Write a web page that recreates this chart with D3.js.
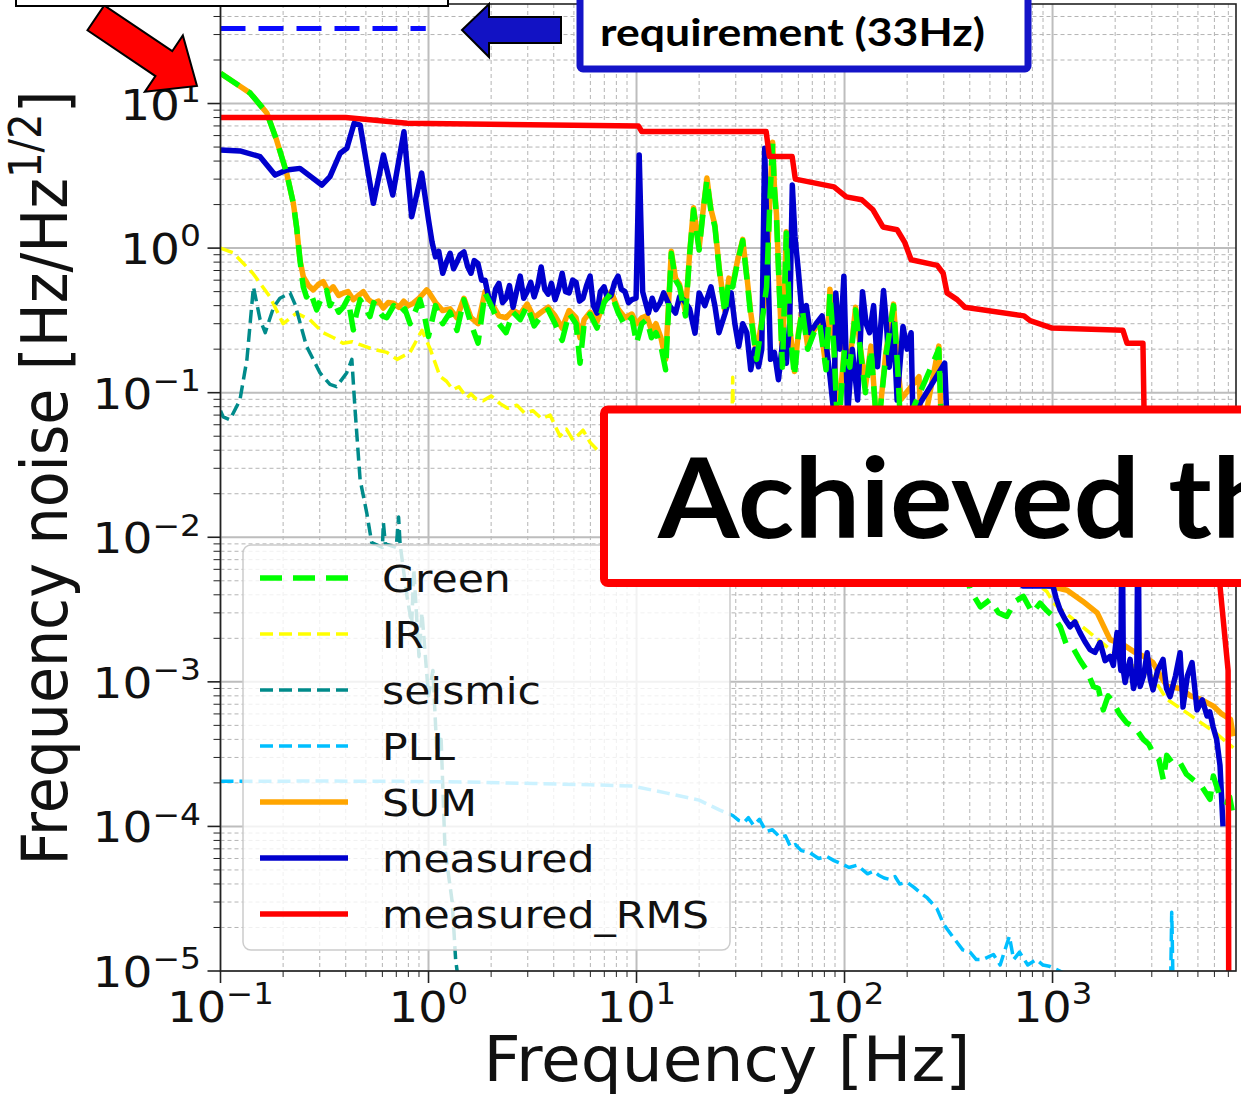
<!DOCTYPE html>
<html>
<head>
<meta charset="utf-8">
<script src="https://cdn.jsdelivr.net/npm/d3@7"></script>
<style>
  body { margin: 0; background: #fff; }
  svg { display: block; }
</style>
</head>
<body>
<script>
const W = 1241;
const H = 1096;

// Plot area (pixels)
const plotLeft = 220.5, plotRight = 1236, plotTop = 4, plotBottom = 971;

// ---- data: [frequency Hz, noise Hz/rtHz] ----
const legendLabels = ["Green", "IR", "seismic", "PLL", "SUM", "measured", "measured_RMS"];
const yTickExps = [-5, -4, -3, -2, -1, 0, 1];
const xTickExps = [-1, 0, 1, 2, 3];

const requirementValue = 33;
const requirementRange = [0.1, 0.97];

const greenData = [
  [0.1, 16.2], [0.12, 13.6], [0.139, 11.8], [0.167, 8.6], [0.186, 5.6], [0.208, 3.3],
  [0.224, 2.04], [0.232, 1.41], [0.241, 0.83], [0.246, 0.64], [0.25, 0.54], [0.259, 0.46],
  [0.27, 0.5], [0.29, 0.374], [0.305, 0.45], [0.324, 0.51], [0.336, 0.4], [0.348, 0.44],
  [0.37, 0.36], [0.389, 0.39], [0.41, 0.45], [0.435, 0.272], [0.45, 0.35], [0.469, 0.44],
  [0.5, 0.38], [0.523, 0.336], [0.545, 0.42], [0.564, 0.39], [0.6, 0.34], [0.63, 0.33],
  [0.68, 0.4], [0.73, 0.355], [0.77, 0.38], [0.815, 0.3], [0.86, 0.36], [0.91, 0.44],
  [0.96, 0.33], [1.0, 0.245], [1.08, 0.4], [1.17, 0.3], [1.27, 0.36], [1.37, 0.27],
  [1.48, 0.44], [1.6, 0.3], [1.73, 0.22], [1.87, 0.49], [2.02, 0.39], [2.18, 0.3],
  [2.36, 0.26], [2.55, 0.36], [2.76, 0.32], [2.98, 0.4], [3.22, 0.29], [3.48, 0.34],
  [3.76, 0.374], [4.06, 0.3], [4.39, 0.23], [4.74, 0.355], [5.12, 0.3], [5.35, 0.16],
  [5.6, 0.3], [5.98, 0.35], [6.46, 0.28], [6.98, 0.42], [7.54, 0.49], [8.15, 0.36],
  [8.8, 0.29], [9.5, 0.33], [10.0, 0.22], [10.6, 0.3], [11.2, 0.32], [11.8, 0.24],
  [12.4, 0.26], [13.1, 0.21], [13.8, 0.144], [14.7, 0.92], [15.4, 0.6], [16.1, 0.54],
  [17.2, 0.34], [18.0, 0.9], [18.8, 1.84], [20.0, 0.97], [21.0, 1.9], [21.8, 2.96],
  [22.8, 1.8], [23.8, 1.41], [25.0, 0.7], [26.6, 0.355], [27.8, 0.6], [29.0, 0.54],
  [30.6, 0.8], [32.4, 1.13], [34.0, 0.6], [35.4, 0.34], [37.8, 0.17], [40.0, 0.3],
  [42.2, 0.54], [43.8, 2.2], [45.1, 5.3], [46.0, 2.6], [47.1, 1.6], [48.6, 0.5],
  [50.3, 0.15], [52.5, 1.27], [54.8, 0.26], [57.4, 0.13], [60, 0.25], [62.7, 0.374],
  [66.5, 0.2], [71.3, 0.26], [76, 0.3], [81.5, 0.144], [85.1, 0.49], [89, 0.2],
  [92.9, 0.05], [100, 0.2], [106, 0.15], [113, 0.374], [119, 0.2], [126, 0.1],
  [134, 0.2], [144, 0.05], [158, 0.18], [172, 0.4], [180, 0.15], [187, 0.05],
  [284, 0.2], [293, 0.05],
  [401, 0.00435], [450, 0.0033], [501, 0.0037], [550, 0.003], [602, 0.00283], [660, 0.0036],
  [724, 0.0039], [800, 0.003], [871, 0.0035], [940, 0.0031], [1009, 0.00283], [1090, 0.0024],
  [1170, 0.00178], [1260, 0.0017], [1355, 0.00141], [1460, 0.0012], [1571, 0.00093],
  [1660, 0.0009], [1754, 0.00064], [1850, 0.0008], [1959, 0.00072], [2100, 0.0006],
  [2273, 0.00052], [2500, 0.00048], [2730, 0.0004], [2900, 0.00037], [3053, 0.00032],
  [3250, 0.00029], [3409, 0.00021], [3540, 0.00031], [3800, 0.00027], [4102, 0.000276],
  [4400, 0.00023], [4750, 0.00021], [5200, 0.00019], [5714, 0.000154], [5930, 0.000223],
  [6300, 0.00017], [6884, 0.000146], [7100, 0.00016], [7400, 0.000117]
];

const irData = [
  [0.1, 1.0], [0.115, 0.93], [0.143, 0.67], [0.173, 0.46], [0.2, 0.3], [0.232, 0.355],
  [0.269, 0.32], [0.311, 0.26], [0.35, 0.24], [0.388, 0.22], [0.43, 0.225], [0.469, 0.215],
  [0.541, 0.2], [0.631, 0.19], [0.706, 0.17], [0.815, 0.19], [0.93, 0.27], [1.02, 0.2],
  [1.135, 0.13], [1.22, 0.12], [1.31, 0.105], [1.4, 0.11], [1.53, 0.092], [1.6, 0.098],
  [1.7, 0.09], [1.83, 0.088], [2.0, 0.095], [2.21, 0.084], [2.4, 0.078], [2.66, 0.082],
  [2.9, 0.072], [3.18, 0.075], [3.5, 0.066], [3.84, 0.07], [4.29, 0.05], [4.6, 0.056],
  [4.95, 0.047], [5.53, 0.055], [6.0, 0.045], [6.68, 0.0385], [12, 0.03], [28.5, 0.025],
  [29, 0.128], [29.5, 0.025], [200, 0.01], [800, 0.005], [941, 0.0042], [1010, 0.0035],
  [1300, 0.0026], [1700, 0.0019], [2200, 0.0014], [3000, 0.0011], [3540, 0.00076],
  [4500, 0.0006], [6000, 0.00045], [7400, 0.00035]
];

const seismicData = [
  [0.1, 0.075], [0.103, 0.068], [0.111, 0.065], [0.124, 0.089], [0.134, 0.17], [0.144, 0.54],
  [0.155, 0.32], [0.164, 0.26], [0.18, 0.39], [0.193, 0.45], [0.216, 0.49], [0.228, 0.41],
  [0.259, 0.21], [0.301, 0.137], [0.336, 0.114], [0.361, 0.11], [0.404, 0.137], [0.428, 0.17],
  [0.443, 0.078], [0.469, 0.025], [0.505, 0.0147], [0.533, 0.0092], [0.6, 0.0085],
  [0.607, 0.0126], [0.62, 0.009], [0.7, 0.0085], [0.718, 0.0138], [0.73, 0.009],
  [0.786, 0.004], [0.83, 0.0025], [0.85, 0.006], [0.9, 0.0015], [0.93, 0.003], [1.0, 0.0008],
  [1.05, 0.0012], [1.1, 0.0003], [1.15, 0.0004], [1.2, 0.00007], [1.3, 0.00003],
  [1.35, 0.000012], [1.4, 0.000008]
];

const pllData = [
  [0.1, 0.000205], [0.3, 0.000206], [0.73, 0.000205], [1.5, 0.000203], [3.2, 0.000198],
  [6, 0.000194], [9.6, 0.00019], [14, 0.00017], [20, 0.000152], [25, 0.00013], [29, 0.000119],
  [31, 0.00011], [33, 0.000107], [34.5, 0.000115], [36.5, 0.000102], [39, 0.000112],
  [42, 0.000092], [45, 0.000095], [49, 0.000084], [52, 0.000086], [55, 0.000072],
  [58, 0.000075], [62, 0.000068], [68, 0.000066], [75, 0.00006], [82, 0.000062],
  [89, 0.000058], [97, 0.000055], [105, 0.000052], [115, 0.000054], [129, 0.000047],
  [138, 0.000049], [146, 0.000046], [155, 0.000044], [165, 0.000043], [175, 0.000045],
  [184, 0.00004], [200, 0.000041], [215, 0.000038], [230, 0.000035], [250, 0.000032],
  [278, 0.000027], [300, 0.000021], [330, 0.0000174], [370, 0.000014], [401, 0.0000135],
  [430, 0.000012], [462, 0.000012], [520, 0.000013], [560, 0.000011], [620, 0.0000174],
  [650, 0.000012], [694, 0.0000135], [760, 0.000011], [835, 0.000012], [900, 0.000011],
  [964, 0.0000108], [1166, 0.0000095], [3700, 0.000009], [3740, 0.0000255],
  [3760, 0.000018], [3790, 0.000009]
];

const sumData = [
  [0.1, 16.2], [0.12, 13.6], [0.139, 11.8], [0.167, 8.6], [0.186, 5.6], [0.208, 3.3],
  [0.224, 2.04], [0.232, 1.41], [0.241, 0.83], [0.25, 0.635], [0.265, 0.55], [0.279, 0.514],
  [0.295, 0.56], [0.312, 0.586], [0.33, 0.5], [0.348, 0.54], [0.37, 0.47], [0.389, 0.488],
  [0.41, 0.5], [0.435, 0.44], [0.46, 0.47], [0.486, 0.5], [0.515, 0.44], [0.543, 0.416],
  [0.575, 0.43], [0.607, 0.385], [0.64, 0.42], [0.678, 0.416], [0.72, 0.39], [0.76, 0.43],
  [0.8, 0.4], [0.845, 0.416], [0.9, 0.45], [0.98, 0.514], [1.0, 0.5], [1.08, 0.42],
  [1.17, 0.37], [1.27, 0.38], [1.37, 0.33], [1.48, 0.45], [1.6, 0.33], [1.73, 0.3],
  [1.87, 0.5], [2.02, 0.41], [2.18, 0.34], [2.36, 0.33], [2.55, 0.37], [2.76, 0.35],
  [2.98, 0.41], [3.22, 0.33], [3.48, 0.36], [3.76, 0.39], [4.06, 0.34], [4.39, 0.28],
  [4.74, 0.37], [5.12, 0.33], [5.35, 0.24], [5.6, 0.32], [5.98, 0.36], [6.46, 0.31],
  [6.98, 0.43], [7.54, 0.5], [8.15, 0.38], [8.8, 0.33], [9.5, 0.35], [10.0, 0.3],
  [10.6, 0.33], [11.2, 0.34], [11.8, 0.27], [12.4, 0.3], [13.1, 0.24], [13.8, 0.17],
  [14.7, 0.95], [15.4, 0.62], [16.1, 0.56], [17.2, 0.36], [18.0, 0.92], [18.8, 1.9],
  [20, 1.0], [21.0, 1.95], [21.8, 3.05], [22.8, 1.85], [23.8, 1.45], [25.0, 0.72],
  [26.6, 0.37], [27.8, 0.62], [29, 0.56], [30.6, 0.82], [32.4, 1.15], [34.0, 0.62],
  [35.4, 0.36], [37.8, 0.18], [40.0, 0.32], [42.2, 0.56], [43.8, 2.3], [45.1, 5.4],
  [46.0, 2.7], [47.1, 1.7], [48.6, 0.52], [50.3, 0.16], [52.5, 1.3], [54.8, 0.27],
  [57.4, 0.14], [60, 0.26], [62.7, 0.38], [66.5, 0.21], [71.3, 0.27], [76, 0.31],
  [81.5, 0.15], [85.1, 0.52], [89, 0.21], [92.9, 0.06], [100, 0.21], [106, 0.16],
  [113, 0.39], [119, 0.21], [126, 0.11], [134, 0.21], [144, 0.05], [158, 0.19],
  [172, 0.41], [180, 0.16], [187, 0.09], [228, 0.129], [235, 0.05], [284, 0.21], [293, 0.05],
  [900, 0.0047], [1175, 0.0043], [1400, 0.0036], [1640, 0.003], [1890, 0.00196],
  [2200, 0.0018], [2490, 0.0016], [2750, 0.0015], [3040, 0.00136], [3300, 0.0011],
  [3560, 0.00093], [4100, 0.0009], [4600, 0.0008], [5140, 0.00076], [5930, 0.00068],
  [6500, 0.0006], [7170, 0.00055], [7400, 0.00042]
];

const measuredData = [
  [0.1, 4.77], [0.124, 4.7], [0.155, 4.29], [0.183, 3.2], [0.208, 3.47], [0.241, 3.56],
  [0.307, 2.73], [0.336, 3.12], [0.376, 4.53], [0.405, 4.9], [0.439, 7.3], [0.469, 7.1],
  [0.543, 2.04], [0.607, 4.41], [0.673, 2.33], [0.762, 6.38], [0.83, 1.65], [0.927, 3.3],
  [1.0, 1.57], [1.04, 1.1], [1.08, 0.87], [1.12, 0.95], [1.17, 0.67], [1.22, 0.8],
  [1.27, 0.92], [1.32, 0.72], [1.37, 0.8], [1.42, 0.9], [1.48, 0.94], [1.54, 0.75],
  [1.6, 0.67], [1.66, 0.82], [1.73, 0.78], [1.8, 0.6], [1.87, 0.6], [1.95, 0.45],
  [2.02, 0.39], [2.1, 0.52], [2.18, 0.57], [2.27, 0.42], [2.36, 0.45], [2.45, 0.55],
  [2.55, 0.39], [2.65, 0.5], [2.76, 0.64], [2.87, 0.45], [2.98, 0.5], [3.1, 0.58],
  [3.22, 0.46], [3.35, 0.55], [3.48, 0.74], [3.62, 0.52], [3.76, 0.48], [3.9, 0.57],
  [4.06, 0.44], [4.22, 0.52], [4.39, 0.67], [4.56, 0.5], [4.74, 0.49], [4.93, 0.6],
  [5.12, 0.58], [5.32, 0.43], [5.53, 0.45], [5.75, 0.55], [5.98, 0.64], [6.2, 0.4],
  [6.46, 0.355], [6.7, 0.5], [6.98, 0.54], [7.25, 0.45], [7.54, 0.47], [7.85, 0.58],
  [8.15, 0.64], [8.45, 0.52], [8.8, 0.5], [9.15, 0.42], [9.5, 0.44], [9.95, 0.45],
  [10.3, 4.4], [10.7, 0.5], [11.4, 0.355], [11.9, 0.45], [12.4, 0.375], [13.0, 0.42],
  [13.5, 0.49], [14.4, 0.4], [15.4, 0.355], [16.1, 0.46], [16.8, 0.44], [18.0, 0.38],
  [19.1, 0.258], [20.0, 0.49], [21.3, 0.4], [22.8, 0.54], [23.8, 0.4], [24.9, 0.26],
  [26.6, 0.35], [28.5, 0.49], [29.7, 0.3], [31.0, 0.209], [32.4, 0.3], [33.9, 0.26],
  [35.4, 0.144], [37.0, 0.2], [38.6, 0.151], [40.0, 0.2], [41.3, 4.9], [43.1, 0.54],
  [44.1, 0.17], [46.0, 0.19], [48.1, 0.123], [50.3, 0.22], [52.5, 0.16], [54.5, 0.3],
  [56.1, 2.73], [57.8, 1.2], [59.9, 0.71], [62.6, 0.34], [65.5, 0.4], [68.2, 0.26],
  [73, 0.3], [78, 0.34], [81.5, 0.22], [85.1, 0.13], [89, 0.07], [90.8, 0.49],
  [95, 0.2], [99.3, 0.64], [103.5, 0.07], [109, 0.2], [115.6, 0.089], [122, 0.5],
  [127, 0.3], [132, 0.26], [138, 0.4], [144, 0.151], [154, 0.51], [159, 0.3],
  [164, 0.15], [172, 0.3], [179, 0.089], [191, 0.287], [200, 0.2], [209, 0.26],
  [213, 0.07], [303, 0.16], [310, 0.07],
  [721, 0.0046], [1005, 0.0046], [1040, 0.0038], [1086, 0.00316], [1150, 0.0027],
  [1213, 0.0024], [1280, 0.0026], [1355, 0.00219], [1430, 0.0019], [1514, 0.00167],
  [1600, 0.0016], [1692, 0.00187], [1790, 0.0014], [1890, 0.0015], [1960, 0.0013],
  [2042, 0.00219], [2130, 0.0012], [2158, 0.02], [2190, 0.0012], [2233, 0.00099],
  [2290, 0.0012], [2360, 0.00143], [2450, 0.0009], [2540, 0.0011], [2577, 0.02],
  [2610, 0.0011], [2637, 0.00093], [2740, 0.0011], [2851, 0.00159], [2950, 0.00105],
  [3041, 0.00088], [3200, 0.0012], [3398, 0.00143], [3530, 0.0009], [3673, 0.00079],
  [3900, 0.0011], [4102, 0.00159], [4240, 0.00067], [4450, 0.0011], [4684, 0.00136],
  [4950, 0.00064], [5250, 0.00075], [5530, 0.00058], [5700, 0.00062], [5910, 0.00049],
  [6150, 0.0004], [6383, 0.000264], [6600, 0.0001]
];

const rmsData = [
  [0.1, 8.0], [0.4, 8.0], [0.79, 7.3], [10.2, 7.0], [10.6, 6.4], [42, 6.4], [43.5, 4.3],
  [56, 4.3], [58, 3.0], [89, 2.65], [102, 2.26], [121, 2.16], [137, 1.84], [153, 1.4],
  [179, 1.34], [195, 1.09], [209, 0.83], [279, 0.76], [298, 0.67], [311, 0.49], [348, 0.44],
  [379, 0.39], [729, 0.34], [780, 0.315], [995, 0.28], [2180, 0.27], [2280, 0.22],
  [2720, 0.22], [2760, 0.06], [6200, 0.03], [6383, 0.0046], [6982, 0.0012], [7050, 0.000001]
];

// ---- styles ----
const seriesStyles = {
  Green: { data: greenData, color: "#00ff00", width: 5.5, dash: "22,11" },
  IR: { data: irData, color: "#ffff00", width: 3.5, dash: "13,6" },
  seismic: { data: seismicData, color: "#008b8b", width: 3.5, dash: "13,6" },
  PLL: { data: pllData, color: "#00bfff", width: 3.5, dash: "13,6" },
  SUM: { data: sumData, color: "#ffa500", width: 5.5, dash: null },
  measured: { data: measuredData, color: "#0000cd", width: 5.5, dash: null },
  measured_RMS: { data: rmsData, color: "#ff0000", width: 5.5, dash: null }
};
const drawOrder = ["IR", "seismic", "PLL", "SUM", "measured", "Green", "measured_RMS"];

const x = d3.scaleLog().domain([0.1, 7620]).range([plotLeft, plotRight]);
const y = d3.scaleLog().domain([1e-5, 48.8]).range([plotBottom, plotTop]);

const svg = d3.select("body").append("svg")
  .attr("width", W).attr("height", H)
  .attr("font-family", "DejaVu Sans");

svg.append("defs").append("clipPath").attr("id", "plotclip")
  .append("rect").attr("x", plotLeft).attr("y", plotTop)
  .attr("width", plotRight - plotLeft).attr("height", plotBottom - plotTop);

// grid
const isMajor = v => Math.abs(Math.log10(v) - Math.round(Math.log10(v))) < 1e-6;
const xt = x.ticks();
const yt = y.ticks();
const grid = svg.append("g");
grid.selectAll(".xminor").data(xt.filter(v => !isMajor(v))).enter().append("line")
  .attr("x1", d => x(d)).attr("x2", d => x(d)).attr("y1", plotTop).attr("y2", plotBottom)
  .attr("stroke", "#b4b4b4").attr("stroke-width", 1).attr("stroke-dasharray", "4,3");
grid.selectAll(".yminor").data(yt.filter(v => !isMajor(v))).enter().append("line")
  .attr("y1", d => y(d)).attr("y2", d => y(d)).attr("x1", plotLeft).attr("x2", plotRight)
  .attr("stroke", "#b4b4b4").attr("stroke-width", 1).attr("stroke-dasharray", "4,3");
grid.selectAll(".xmajor").data(xTickExps.map(e => Math.pow(10, e))).enter().append("line")
  .attr("x1", d => x(d)).attr("x2", d => x(d)).attr("y1", plotTop).attr("y2", plotBottom)
  .attr("stroke", "#bdbdbd").attr("stroke-width", 2);
grid.selectAll(".ymajor").data(yTickExps.map(e => Math.pow(10, e))).enter().append("line")
  .attr("y1", d => y(d)).attr("y2", d => y(d)).attr("x1", plotLeft).attr("x2", plotRight)
  .attr("stroke", "#bdbdbd").attr("stroke-width", 2);

// data lines
const line = d3.line().x(d => x(d[0])).y(d => y(d[1]));
const plot = svg.append("g").attr("clip-path", "url(#plotclip)");

plot.append("line")
  .attr("x1", x(requirementRange[0])).attr("x2", x(requirementRange[1]))
  .attr("y1", y(requirementValue)).attr("y2", y(requirementValue))
  .attr("stroke", "#0a0aff").attr("stroke-width", 5).attr("stroke-dasharray", "25,13");

drawOrder.forEach(function (name) {
  const s = seriesStyles[name];
  plot.append("path")
    .datum(s.data)
    .attr("d", line)
    .attr("fill", "none")
    .attr("stroke", s.color)
    .attr("stroke-width", s.width)
    .attr("stroke-linejoin", "round")
    .attr("stroke-dasharray", s.dash);
});

// frame + ticks
svg.append("rect").attr("x", plotLeft).attr("y", plotTop)
  .attr("width", plotRight - plotLeft).attr("height", plotBottom - plotTop)
  .attr("fill", "none").attr("stroke", "#222").attr("stroke-width", 1.6);

const ticks = svg.append("g").attr("stroke", "#222");
xt.forEach(v => {
  const len = isMajor(v) ? 12 : 6;
  ticks.append("line").attr("x1", x(v)).attr("x2", x(v)).attr("y1", plotBottom).attr("y2", plotBottom + len)
    .attr("stroke-width", isMajor(v) ? 1.6 : 1);
});
yt.forEach(v => {
  const len = isMajor(v) ? 13 : 7;
  ticks.append("line").attr("y1", y(v)).attr("y2", y(v)).attr("x1", plotLeft).attr("x2", plotLeft - len)
    .attr("stroke-width", isMajor(v) ? 1.6 : 1);
});

function powLabel(parent, e, px, py, size, sx, anchor) {
  const t = parent.append("text")
    .attr("transform", `translate(${px},${py}) scale(${sx},1)`)
    .attr("text-anchor", anchor)
    .attr("font-size", size)
    .attr("fill", "#111");
  t.append("tspan").text("10");
  t.append("tspan").attr("dy", -size * 0.42).attr("font-size", size * 0.7)
    .text(e < 0 ? "\u2212" + (-e) : String(e));
  return t;
}

yTickExps.forEach(e => powLabel(svg, e, 201, y(Math.pow(10, e)) + 16, 42, 1.12, "end"));
xTickExps.forEach(e => powLabel(svg, e, x(Math.pow(10, e)), 1022, 42, 1.1, "middle"));

// axis labels
svg.append("text")
  .attr("x", 727).attr("y", 1081)
  .attr("text-anchor", "middle").attr("font-size", 62)
  .attr("textLength", 487).attr("lengthAdjust", "spacingAndGlyphs")
  .attr("fill", "#111")
  .text("Frequency [Hz]");

const yl = svg.append("text")
  .attr("transform", "translate(67,478) rotate(-90)")
  .attr("text-anchor", "middle").attr("font-size", 64)
  .attr("textLength", 775).attr("lengthAdjust", "spacingAndGlyphs")
  .attr("fill", "#111");
yl.append("tspan").text("Frequency noise [Hz/Hz");
yl.append("tspan").attr("dy", -26).attr("font-size", 44).text("1/2");
yl.append("tspan").attr("dy", 26).text("]");

// legend
const legend = svg.append("g");
legend.append("rect")
  .attr("x", 243).attr("y", 545).attr("width", 487).attr("height", 405).attr("rx", 8)
  .attr("fill", "#fff").attr("fill-opacity", 0.8)
  .attr("stroke", "#cccccc").attr("stroke-width", 1.5);
legendLabels.forEach(function (name, i) {
  const s = seriesStyles[name];
  const ly = 578 + i * 56;
  legend.append("line")
    .attr("x1", 260).attr("x2", 348).attr("y1", ly).attr("y2", ly)
    .attr("stroke", s.color).attr("stroke-width", s.width)
    .attr("stroke-dasharray", s.dash);
  legend.append("text")
    .attr("transform", `translate(382,${ly + 14}) scale(1.12,1)`)
    .attr("font-size", 38).attr("fill", "#111")
    .text(name);
});

// ---- slide annotations on top ----
const notes = svg.append("g");

// red arrow pointing at the 10^1 label
notes.append("path")
  .attr("d", "M0,0 L-40,-34 L-40,-15 L-122,-15 L-122,15 L-40,15 L-40,34 Z")
  .attr("transform", "translate(197,86) rotate(34)")
  .attr("fill", "#ff0000").attr("stroke", "#000").attr("stroke-width", 2);

notes.append("rect")
  .attr("x", 16).attr("y", -12).attr("width", 432).attr("height", 18)
  .attr("fill", "#fff").attr("stroke", "#000").attr("stroke-width", 2);

// blue arrow pointing at requirement line
notes.append("path")
  .attr("d", "M462,30 L489,4 L489,17 L561,17 L561,43 L489,43 L489,57 Z")
  .attr("fill", "#1212c4").attr("stroke", "#000").attr("stroke-width", 2);

notes.append("rect")
  .attr("x", 580).attr("y", -20).attr("width", 448).attr("height", 89).attr("rx", 3)
  .attr("fill", "#fff").attr("stroke", "#1414c8").attr("stroke-width", 7);
notes.append("text")
  .attr("x", 600).attr("y", 46)
  .attr("font-family", "Lato").attr("font-weight", "bold").attr("font-size", 38)
  .attr("textLength", 385).attr("lengthAdjust", "spacingAndGlyphs")
  .attr("fill", "#000")
  .text("requirement (33Hz)");

notes.append("rect")
  .attr("x", 604).attr("y", 409.5).attr("width", 720).attr("height", 173.5).attr("rx", 4)
  .attr("fill", "#fff").attr("stroke", "#ff0000").attr("stroke-width", 8);
notes.append("text")
  .attr("transform", "translate(658,538) scale(1.055,1)")
  .attr("font-family", "Lato").attr("font-weight", "bold").attr("font-size", 111)
  .attr("fill", "#000")
  .text("Achieved the requirement");
</script>
</body>
</html>
